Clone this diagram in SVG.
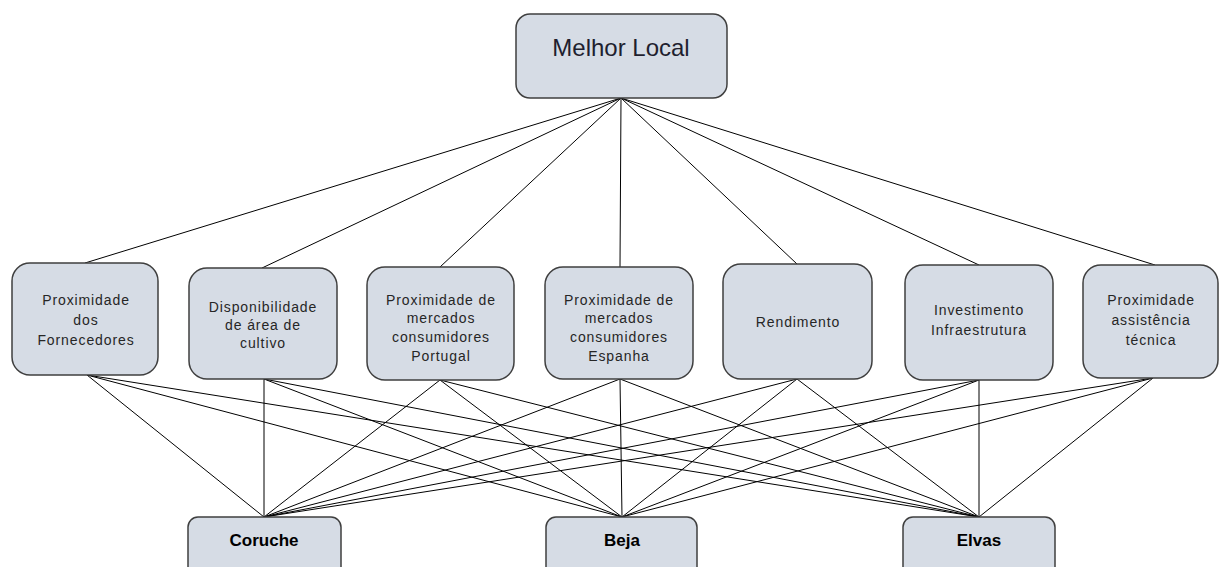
<svg xmlns="http://www.w3.org/2000/svg" width="1220" height="567" viewBox="0 0 1220 567">
<style>
.box{fill:#D6DCE5;stroke:#3F3F3F;stroke-width:1.5}
.ln{stroke:#000;stroke-width:1;fill:none}
.t{font-family:"Liberation Sans",Arial,sans-serif;font-size:14px;fill:#262626;text-anchor:middle;letter-spacing:0.9px}
.tb{font-family:"Liberation Sans",Arial,sans-serif;font-size:17px;font-weight:bold;fill:#000;text-anchor:middle}
.tt{font-family:"Liberation Sans",Arial,sans-serif;font-size:24px;fill:#1F1F2F;text-anchor:middle}
</style>
<rect width="1220" height="567" fill="#fff"/>
<g id="connectors" class="ln">
<line x1="621" y1="98" x2="85" y2="263"/>
<line x1="621" y1="98" x2="262" y2="268"/>
<line x1="621" y1="98" x2="440" y2="267"/>
<line x1="621" y1="98" x2="620" y2="267"/>
<line x1="621" y1="98" x2="797" y2="264"/>
<line x1="621" y1="98" x2="979" y2="265"/>
<line x1="621" y1="98" x2="1155" y2="265"/>
<line x1="87" y1="375" x2="264" y2="517"/>
<line x1="87" y1="375" x2="622" y2="517"/>
<line x1="87" y1="375" x2="979" y2="517"/>
<line x1="264" y1="379" x2="264" y2="517"/>
<line x1="264" y1="379" x2="622" y2="517"/>
<line x1="264" y1="379" x2="979" y2="517"/>
<line x1="440" y1="380" x2="264" y2="517"/>
<line x1="440" y1="380" x2="622" y2="517"/>
<line x1="440" y1="380" x2="979" y2="517"/>
<line x1="620" y1="379" x2="264" y2="517"/>
<line x1="620" y1="379" x2="622" y2="517"/>
<line x1="620" y1="379" x2="979" y2="517"/>
<line x1="797" y1="379" x2="264" y2="517"/>
<line x1="797" y1="379" x2="622" y2="517"/>
<line x1="797" y1="379" x2="979" y2="517"/>
<line x1="979" y1="380" x2="264" y2="517"/>
<line x1="979" y1="380" x2="622" y2="517"/>
<line x1="979" y1="380" x2="979" y2="517"/>
<line x1="1153" y1="378" x2="264" y2="517"/>
<line x1="1153" y1="378" x2="622" y2="517"/>
<line x1="1153" y1="378" x2="979" y2="517"/>
</g>
<g id="melhor-local">
<rect class="box" x="516" y="14" width="211" height="84" rx="14"/>
<text class="tt" x="621" y="56">Melhor Local</text>
</g>
<g id="n1">
<rect class="box" x="12" y="263" width="146" height="112" rx="18"/>
<text class="t" x="86" y="305">Proximidade</text>
<text class="t" x="86" y="325">dos</text>
<text class="t" x="86" y="345">Fornecedores</text>
</g>
<g id="n2">
<rect class="box" x="189" y="268" width="148" height="111" rx="18"/>
<text class="t" x="263" y="312">Disponibilidade</text>
<text class="t" x="263" y="330">de área de</text>
<text class="t" x="263" y="348">cultivo</text>
</g>
<g id="n3">
<rect class="box" x="367" y="267" width="147" height="113" rx="18"/>
<text class="t" x="441" y="305">Proximidade de</text>
<text class="t" x="441" y="323">mercados</text>
<text class="t" x="441" y="342">consumidores</text>
<text class="t" x="441" y="361">Portugal</text>
</g>
<g id="n4">
<rect class="box" x="545" y="267" width="148" height="112" rx="18"/>
<text class="t" x="619" y="305">Proximidade de</text>
<text class="t" x="619" y="323">mercados</text>
<text class="t" x="619" y="342">consumidores</text>
<text class="t" x="619" y="361">Espanha</text>
</g>
<g id="n5">
<rect class="box" x="723" y="264" width="149" height="115" rx="18"/>
<text class="t" x="798" y="327">Rendimento</text>
</g>
<g id="n6">
<rect class="box" x="905" y="265" width="148" height="115" rx="18"/>
<text class="t" x="979" y="315">Investimento</text>
<text class="t" x="979" y="335">Infraestrutura</text>
</g>
<g id="n7">
<rect class="box" x="1083" y="265" width="135" height="113" rx="18"/>
<text class="t" x="1151" y="305">Proximidade</text>
<text class="t" x="1151" y="325">assistência</text>
<text class="t" x="1151" y="345">técnica</text>
</g>
<g id="coruche">
<rect class="box" x="188" y="517" width="153" height="70" rx="10"/>
<text class="tb" x="264" y="546">Coruche</text>
</g>
<g id="beja">
<rect class="box" x="546" y="517" width="151" height="70" rx="10"/>
<text class="tb" x="622" y="546">Beja</text>
</g>
<g id="elvas">
<rect class="box" x="903" y="517" width="152" height="70" rx="10"/>
<text class="tb" x="979" y="546">Elvas</text>
</g>
</svg>
